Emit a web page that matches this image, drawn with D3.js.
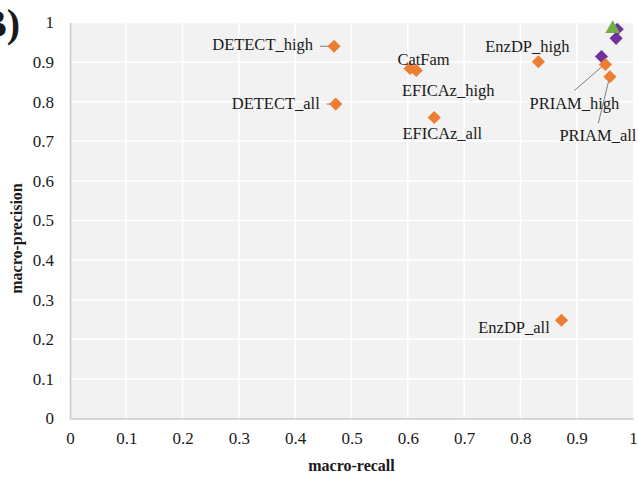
<!DOCTYPE html>
<html>
<head>
<meta charset="utf-8">
<script src="https://cdn.jsdelivr.net/npm/d3@7"></script>
<style>
  body { margin: 0; background: #fff; }
  text { font-family: "Liberation Serif", "Times New Roman", serif; fill: #1a1a1a; }
</style>
</head>
<body>
<div class="recall-chart"></div>
<script>
// labelled tools (orange diamonds)
var toolNames = ["DETECT_high", "DETECT_all", "CatFam", "EFICAz_high", "EFICAz_all",
                 "EnzDP_high", "PRIAM_high", "PRIAM_all", "EnzDP_all"];
var toolRecall = [0.469, 0.472, 0.604, 0.615, 0.647, 0.832, 0.951, 0.959, 0.873];
var toolPrecision = [0.940, 0.794, 0.884, 0.879, 0.760, 0.901, 0.894, 0.863, 0.248];

// unlabelled purple diamonds
var purpleRecall = [0.944, 0.970, 0.972];
var purplePrecision = [0.914, 0.960, 0.983];

// green triangle
var greenRecall = [0.964];
var greenPrecision = [0.984];

var tickValues = [0, 0.1, 0.2, 0.3, 0.4, 0.5, 0.6, 0.7, 0.8, 0.9, 1];

// label placement relative to the point (pixels), plus optional leader line
var labelLayout = {
  "DETECT_high": {anchor: "end", dx: -21, dy: 4, line: [-14, 0, -4, 0]},
  "DETECT_all": {anchor: "end", dx: -16, dy: 5, line: [-9, 0, -3, 0]},
  "CatFam": {anchor: "middle", dx: 13.5, dy: -3},
  "EFICAz_high": {anchor: "middle", dx: 32, dy: 26},
  "EFICAz_all": {anchor: "middle", dx: 8, dy: 21.5},
  "EnzDP_high": {anchor: "middle", dx: -11, dy: -10},
  "PRIAM_high": {anchor: "middle", dx: -31, dy: 44.5, line: [-31, 26, -1.5, 0.5]},
  "PRIAM_all": {anchor: "middle", dx: -12, dy: 64, line: [-11.6, 46.5, -0.6, 1.5]},
  "EnzDP_all": {anchor: "middle", dx: -47.5, dy: 12.7}
};

drawRecallChart();

function drawRecallChart() {
  var margin = {top: 22.5, right: 5, bottom: 63.5, left: 70};
  var width = 638 - margin.left - margin.right;
  var height = 482 - margin.top - margin.bottom;

  var svg = d3.select(".recall-chart").append("svg")
      .attr("width", 638)
      .attr("height", 482);

  var g = svg.append("g")
      .attr("transform", "translate(" + margin.left + "," + margin.top + ")");

  var x = d3.scaleLinear().domain([0, 1]).range([0, width]);
  var y = d3.scaleLinear().domain([0, 1]).range([height, 0]);

  g.append("rect")
      .attr("width", width)
      .attr("height", height)
      .attr("fill", "#f2f2f2");

  // gridlines
  g.selectAll(".vgrid")
      .data(tickValues.slice(1, -1))
    .enter().append("line")
      .attr("x1", function(d) { return x(d); })
      .attr("x2", function(d) { return x(d); })
      .attr("y1", 0)
      .attr("y2", height)
      .attr("stroke", "#fff")
      .attr("stroke-width", 1.5);

  g.selectAll(".hgrid")
      .data(tickValues.slice(1))
    .enter().append("line")
      .attr("x1", 0)
      .attr("x2", width)
      .attr("y1", function(d) { return y(d); })
      .attr("y2", function(d) { return y(d); })
      .attr("stroke", "#fff")
      .attr("stroke-width", 1.5);

  // axes
  var xAxis = g.append("g")
      .attr("transform", "translate(0," + height + ")")
      .call(d3.axisBottom(x).tickValues(tickValues).tickSize(0).tickPadding(13)
        .tickFormat(function(d) { return d3.format("")(d); }));
  var yAxis = g.append("g")
      .call(d3.axisLeft(y).tickValues(tickValues).tickSize(0).tickPadding(16)
        .tickFormat(function(d) { return d3.format("")(d); }));

  [xAxis, yAxis].forEach(function(a) {
    a.select(".domain").attr("stroke", "#c8c8c8").attr("stroke-width", 1.5);
    a.selectAll("text")
        .style("font-family", "Liberation Serif, serif")
        .style("font-size", "17px")
        .attr("fill", "#1a1a1a");
  });

  // axis titles
  svg.append("text")
      .attr("x", margin.left + width / 2)
      .attr("y", 471)
      .attr("text-anchor", "middle")
      .style("font-size", "16px")
      .style("font-weight", "bold")
      .text("macro-recall");

  svg.append("text")
      .attr("transform", "translate(22," + (margin.top + height / 2 + 18) + ") rotate(-90)")
      .attr("text-anchor", "middle")
      .style("font-size", "16px")
      .style("font-weight", "bold")
      .text("macro-precision");

  // panel letter, cut at the left edge as in the source figure
  svg.append("text")
      .attr("x", 20)
      .attr("y", 37)
      .attr("text-anchor", "end")
      .style("font-size", "40px")
      .style("font-weight", "bold")
      .text("B)");

  var diamond = d3.symbol().type(d3.symbolDiamond2).size(110);
  var triangle = d3.symbol().type(d3.symbolTriangle).size(95);

  // leader lines
  toolNames.forEach(function(name, i) {
    var l = labelLayout[name];
    if (!l.line) return;
    var px = x(toolRecall[i]), py = y(toolPrecision[i]);
    g.append("line")
        .attr("x1", px + l.line[0]).attr("y1", py + l.line[1])
        .attr("x2", px + l.line[2]).attr("y2", py + l.line[3])
        .attr("stroke", "#808080")
        .attr("stroke-width", 1);
  });

  g.selectAll(".purple")
      .data(d3.range(purpleRecall.length))
    .enter().append("path")
      .attr("d", diamond)
      .attr("transform", function(i) { return "translate(" + x(purpleRecall[i]) + "," + y(purplePrecision[i]) + ")"; })
      .attr("fill", "#7030a0");

  g.selectAll(".tool")
      .data(d3.range(toolNames.length))
    .enter().append("path")
      .attr("d", diamond)
      .attr("transform", function(i) { return "translate(" + x(toolRecall[i]) + "," + y(toolPrecision[i]) + ")"; })
      .attr("fill", "#ed7d31");

  g.selectAll(".green")
      .data(d3.range(greenRecall.length))
    .enter().append("path")
      .attr("d", triangle)
      .attr("transform", function(i) { return "translate(" + x(greenRecall[i]) + "," + y(greenPrecision[i]) + ")"; })
      .attr("fill", "#70ad47");

  g.selectAll(".tool-label")
      .data(d3.range(toolNames.length))
    .enter().append("text")
      .attr("x", function(i) { return x(toolRecall[i]) + labelLayout[toolNames[i]].dx; })
      .attr("y", function(i) { return y(toolPrecision[i]) + labelLayout[toolNames[i]].dy; })
      .attr("text-anchor", function(i) { return labelLayout[toolNames[i]].anchor; })
      .style("font-size", "16.5px")
      .text(function(i) { return toolNames[i]; });
}
</script>
</body>
</html>
